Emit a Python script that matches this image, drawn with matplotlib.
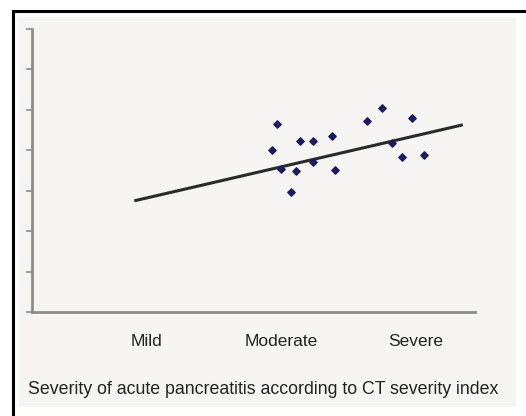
import numpy as np
import matplotlib.pyplot as plt
from matplotlib.patches import Rectangle
from matplotlib.lines import Line2D

plt.rcParams['font.family'] = ['Liberation Sans', 'DejaVu Sans']

# categories on the x axis
categories = ['Mild', 'Moderate', 'Severe']
cat_pos = [1, 2, 3]

# scatter points (x position along category scale, y value)
pts_x = [1.97, 1.93, 2.00, 2.14, 2.24, 2.11, 2.07, 2.24,
         2.38, 2.40, 2.64, 2.75, 2.82, 2.90, 2.97, 3.06]
pts_y = [4.65, 4.01, 3.54, 4.24, 4.24, 3.49, 2.96, 3.72,
         4.36, 3.51, 4.72, 5.04, 4.17, 3.83, 4.79, 3.88]

# trend line end points
trend_x = [0.91, 3.35]
trend_y = [2.75, 4.63]

W, H = 526, 416
fig = plt.figure(figsize=(W / 100, H / 100), dpi=100)
fig.patch.set_facecolor('white')

# light panel and black frame
fig.patches.append(Rectangle((19 / W, (H - 407) / H), (516 - 19) / W, (407 - 17) / H,
                             transform=fig.transFigure, facecolor='#f6f5f3',
                             edgecolor='none', zorder=-5))
fig.lines.append(Line2D([13 / W, 13 / W], [0, (H - 11) / H], transform=fig.transFigure,
                        color='black', lw=2.2))
fig.lines.append(Line2D([13 / W, 1], [(H - 11) / H, (H - 11) / H], transform=fig.transFigure,
                        color='black', lw=2.2))

ax = fig.add_axes([32 / W, (H - 312) / H, 443 / W, 283 / H])
ax.set_facecolor('none')
ax.set_xlim(0.15, 3.44)
ax.set_ylim(0, 7)

ax.plot(trend_x, trend_y, color='#2a2a2a', lw=2.2, solid_capstyle='butt')
ax.scatter(pts_x, pts_y, marker='D', s=14, color='#1c1c5c', zorder=3)

for s in ['top', 'right']:
    ax.spines[s].set_visible(False)
for s in ['left', 'bottom']:
    ax.spines[s].set_color('#8c8c8c')
    ax.spines[s].set_linewidth(2)

ax.set_yticks(range(0, 8))
ax.set_yticklabels([])
ax.tick_params(axis='y', direction='out', length=4, width=1.2, color='#8c8c8c')
ax.set_xticks(cat_pos)
ax.set_xticklabels(categories, fontsize=12.5, color='#222222')
ax.tick_params(axis='x', length=0, pad=16)

fig.text(263 / W, (H - 389) / H,
         'Severity of acute pancreatitis according to CT severity index',
         ha='center', va='center', fontsize=12.8, color='#222222')

fig.savefig('out.png', dpi=100)
